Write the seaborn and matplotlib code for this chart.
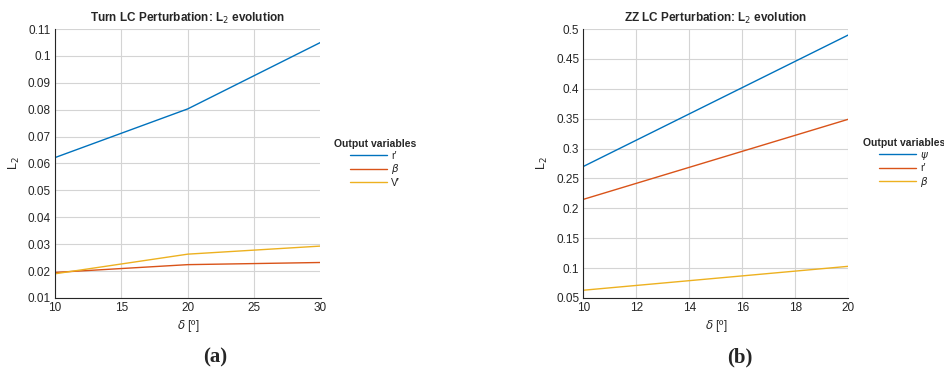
import pandas as pd
import numpy as np
import matplotlib.pyplot as plt
import seaborn as sns

# Panel (a): Turn LC perturbation
turn_delta = [10, 20, 30]
turn_r = [0.0622, 0.0803, 0.1050]
turn_beta = [0.0195, 0.0224, 0.0232]
turn_v = [0.0190, 0.0263, 0.0293]
turn_labels = ["r\u2032", r"$\beta$", "V\u2032"]

# Panel (b): ZZ LC perturbation
zz_delta = [10, 20]
zz_psi = [0.270, 0.490]
zz_r = [0.215, 0.349]
zz_beta = [0.063, 0.103]
zz_labels = [r"$\psi$", "r\u2032", r"$\beta$"]

colors = ["#0072BD", "#D95319", "#EDB120"]

sns.set_style("white")
plt.rcParams['font.family'] = ['Liberation Sans', 'DejaVu Sans']
plt.rcParams['mathtext.fontset'] = 'dejavusans'

fig = plt.figure(figsize=(9.45, 3.82), dpi=100)
ax_a = fig.add_axes([55 / 945, 84 / 382, 265.5 / 945, 269 / 382])
ax_b = fig.add_axes([583.3 / 945, 84 / 382, 265 / 945, 269 / 382])


def long_form(x, series, labels):
    frames = []
    for vals, lab in zip(series, labels):
        frames.append(pd.DataFrame({"delta": x, "L2": vals, "var": lab}))
    return pd.concat(frames, ignore_index=True)


df_a = long_form(turn_delta, [turn_r, turn_beta, turn_v], turn_labels)
df_b = long_form(zz_delta, [zz_psi, zz_r, zz_beta], zz_labels)

sns.lineplot(data=df_a, x="delta", y="L2", hue="var", hue_order=turn_labels,
             palette=colors, linewidth=1.0, ax=ax_a)
sns.lineplot(data=df_b, x="delta", y="L2", hue="var", hue_order=zz_labels,
             palette=colors, linewidth=1.0, ax=ax_b)

ax_a.set_xlim(10, 30)
ax_a.set_ylim(0.01, 0.11)
ax_a.set_xticks([10, 15, 20, 25, 30])
ax_a.set_yticks(np.arange(0.01, 0.111, 0.01))
ax_a.set_yticklabels(["0.01", "0.02", "0.03", "0.04", "0.05", "0.06",
                      "0.07", "0.08", "0.09", "0.1", "0.11"])
ax_a.set_title("Turn LC Perturbation: L$_2$ evolution", fontsize=8.5,
               fontweight="bold", pad=5)

ax_b.set_xlim(10, 20)
ax_b.set_ylim(0.05, 0.5)
ax_b.set_xticks([10, 12, 14, 16, 18, 20])
ax_b.set_yticks(np.arange(0.05, 0.501, 0.05))
ax_b.set_yticklabels(["0.05", "0.1", "0.15", "0.2", "0.25", "0.3",
                      "0.35", "0.4", "0.45", "0.5"])
ax_b.set_title("ZZ LC Perturbation: L$_2$ evolution", fontsize=8.5,
               fontweight="bold", pad=5)

for ax in (ax_a, ax_b):
    ax.grid(True, color="#d4d4d4", linewidth=0.8)
    ax.set_axisbelow(True)
    for s in ("top", "right"):
        ax.spines[s].set_visible(False)
    for s in ("left", "bottom"):
        ax.spines[s].set_color("#262626")
        ax.spines[s].set_linewidth(0.8)
    ax.tick_params(direction="in", length=3, width=0.6, labelsize=8.5,
                   colors="#262626", pad=3)
    ax.set_xlabel(r"$\delta$ [º]", fontsize=8.5, color="#262626", labelpad=3)
    ax.set_ylabel("L$_2$", fontsize=9, color="#262626", labelpad=4)
    ax.get_legend().remove()

leg_a = ax_a.legend(title="Output variables", loc="center",
                    bbox_to_anchor=(1.205, 0.50), frameon=False, fontsize=7.5,
                    title_fontproperties={"weight": "bold", "size": 7.5},
                    handlelength=3.6, handletextpad=0.4, labelspacing=0.15,
                    borderaxespad=0)
leg_b = ax_b.legend(title="Output variables", loc="center",
                    bbox_to_anchor=(1.21, 0.50), frameon=False, fontsize=7.5,
                    title_fontproperties={"weight": "bold", "size": 7.5},
                    handlelength=3.6, handletextpad=0.4, labelspacing=0.15,
                    borderaxespad=0)

fig.text(215 / 945, 1 - 357 / 382, r"(a)", fontsize=15, fontweight="bold",
         family=["Liberation Serif", "DejaVu Serif"], ha="center", va="center")
fig.text(740 / 945, 1 - 357 / 382, r"(b)", fontsize=15, fontweight="bold",
         family=["Liberation Serif", "DejaVu Serif"], ha="center", va="center")

fig.savefig("out.png", dpi=100)
